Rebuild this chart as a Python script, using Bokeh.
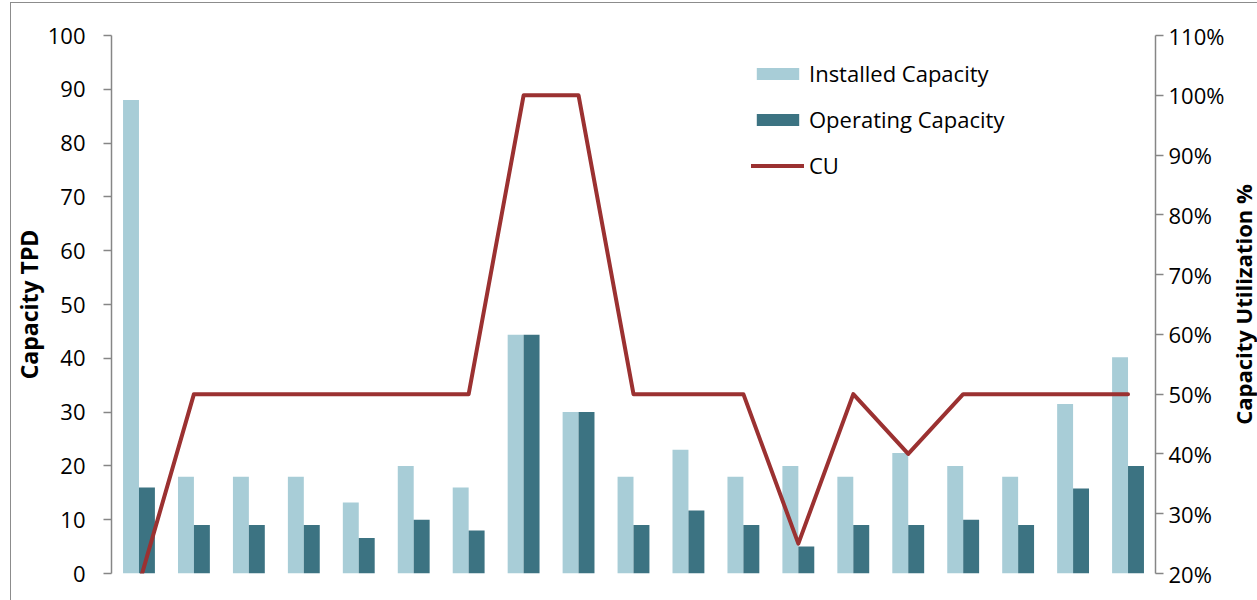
from bokeh.plotting import figure
from bokeh.layouts import row
from bokeh.models import (ColumnDataSource, FactorRange, LinearAxis, Range1d, FixedTicker,
                          PrintfTickFormatter, Legend, LegendItem, Title)
from bokeh.transform import dodge
from bokeh.embed import file_html
from bokeh.resources import INLINE

categories = [str(i) for i in range(1, 20)]
installed = [88, 18, 18, 18, 13.2, 20, 16, 44.4, 30, 18, 23, 18, 20, 18, 22.4, 20, 18, 31.5, 40.2]
operating = [16, 9, 9, 9, 6.6, 10, 8, 44.4, 30, 9, 11.7, 9, 5, 9, 9, 10, 9, 15.8, 20]
cu = [18.2, 50, 50, 50, 50, 50, 50, 100, 100, 50, 50, 50, 25, 50, 40, 50, 50, 50, 50]
left_ticks = [0, 10, 20, 30, 40, 50, 60, 70, 80, 90, 100]
right_ticks = [20, 30, 40, 50, 60, 70, 80, 90, 100, 110]

FONT = "Open Sans"
AXIS_GRAY = "#868686"
TITLE_W = 30

src = ColumnDataSource(dict(cat=categories, installed=installed, operating=operating, cu=cu))

p = figure(width=1257 - TITLE_W, height=600, output_backend="svg", toolbar_location=None,
           x_range=FactorRange(*categories, range_padding=0),
           y_range=Range1d(0, 100),
           min_border_left=111, min_border_right=1257 - TITLE_W - 1157,
           min_border_top=35, min_border_bottom=27)
p.extra_y_ranges = {"cu": Range1d(20, 110)}

r1 = p.vbar(x=dodge("cat", -0.145, range=p.x_range), top="installed", width=0.29,
            source=src, fill_color="#A8CDD7", line_color=None)
r2 = p.vbar(x=dodge("cat", 0.145, range=p.x_range), top="operating", width=0.29,
            source=src, fill_color="#3C7382", line_color=None)
r3 = p.line(x="cat", y="cu", source=src, y_range_name="cu", line_color="#9B3131",
            line_width=4, line_join="round", line_cap="round")

p.xaxis.visible = False
p.xgrid.visible = False
p.ygrid.visible = False
p.outline_line_color = None

yl = p.yaxis[0]
yl.ticker = FixedTicker(ticks=left_ticks)
yl.axis_label = "Capacity TPD"
yl.axis_label_standoff = 0
yl.axis_label_text_font = FONT
yl.axis_label_text_font_size = "23px"
yl.axis_label_text_font_style = "bold"
yl.axis_label_text_color = "#000000"

yr = LinearAxis(y_range_name="cu", ticker=FixedTicker(ticks=right_ticks),
                formatter=PrintfTickFormatter(format="%d%%"))
p.add_layout(yr, "right")

for ax, lstand in ((yl, 18), (yr, 5)):
    ax.axis_line_color = AXIS_GRAY
    ax.axis_line_width = 1.5
    ax.major_tick_line_color = AXIS_GRAY
    ax.major_tick_line_width = 1.5
    ax.major_tick_out = 8
    ax.major_tick_in = 0
    ax.minor_tick_line_color = None
    ax.major_label_standoff = lstand
    ax.major_label_text_font = FONT
    ax.major_label_text_font_size = "22px"
    ax.major_label_text_color = "#000000"

legend = Legend(items=[LegendItem(label="Installed Capacity", renderers=[r1]),
                       LegendItem(label="Operating Capacity", renderers=[r2]),
                       LegendItem(label="CU", renderers=[r3])],
                location=(640, 393), padding=0, margin=0, spacing=16,
                glyph_width=53, glyph_height=15, label_height=22, label_standoff=5,
                label_text_font=FONT, label_text_font_size="22px", label_text_color="#000000",
                border_line_alpha=0, background_fill_alpha=0)
p.add_layout(legend, "center")

# narrow companion figure carrying the right-hand axis title (reads bottom-to-top)
p2 = figure(width=TITLE_W, height=600, output_backend="svg", toolbar_location=None,
            min_border_left=0, min_border_right=0, min_border_top=35, min_border_bottom=27)
p2.xaxis.visible = False
p2.yaxis.visible = False
p2.xgrid.visible = False
p2.ygrid.visible = False
p2.outline_line_color = None
p2.title.visible = False
p2.add_layout(Title(text="Capacity Utilization %", align="center", standoff=0, offset=0,
                    text_font=FONT, text_font_size="22px", text_font_style="bold",
                    text_color="#000000"), "left")

layout = row(p, p2, spacing=0)

html = file_html(layout, INLINE)
css = ("<style>body::before{content:'';position:fixed;left:10px;top:2px;width:1250px;"
       "height:700px;border:1.5px solid #8c8c8c;pointer-events:none;z-index:10;}</style>")
html = html.replace("</head>", css + "</head>", 1)
open("out.html", "w").write(html)
